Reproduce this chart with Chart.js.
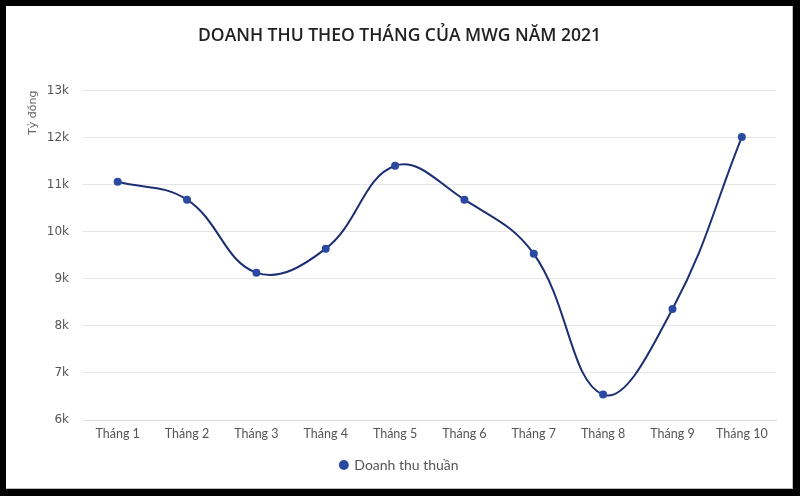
<!DOCTYPE html>
<html>
<head>
<meta charset="utf-8">
<script src="https://cdn.jsdelivr.net/npm/chart.js@4.4.1/dist/chart.umd.min.js"></script>
<style>
html,body{margin:0;padding:0;background:#000;width:800px;height:496px;overflow:hidden}
#frame{position:absolute;left:6px;top:6px;width:787px;height:483px;background:#fff;box-shadow:inset -1px -1px 0 #bbb}
#revenueChart{display:block}
</style>
</head>
<body>
<div id="frame"><canvas id="revenueChart" width="787" height="483"></canvas></div>
<script>

// ===============================
// DATA
// ===============================

const months = ["Tháng 1","Tháng 2","Tháng 3","Tháng 4","Tháng 5","Tháng 6","Tháng 7","Tháng 8","Tháng 9","Tháng 10"]

const revenue = [11060,10680,9130,9640,11400,10680,9530,6540,8360,12010]

const yTicks = [6000,7000,8000,9000,10000,11000,12000,13000]

const seriesName = "Doanh thu thuần"
const chartTitle = "DOANH THU THEO THÁNG CỦA MWG NĂM 2021"
const yTitle = "Tỷ đồng"

// ===============================
// CHART
// ===============================

const ctx = document.getElementById("revenueChart")

new Chart(ctx,{

type:"line",

data:{
labels:months,
datasets:[{
label:seriesName,
data:revenue,
borderColor:"#1c2f73",
borderWidth:2,
tension:0.4,
fill:false,
pointRadius:4,
pointHoverRadius:4,
pointBackgroundColor:"#2a49a0",
pointBorderColor:"#2a49a0",
pointBorderWidth:0
}]
},

options:{
responsive:false,
animation:false,
devicePixelRatio:1,

// same padding both sides so title and legend stay centred
layout:{
padding:{top:0,right:16.5,bottom:7,left:16.5}
},

plugins:{
title:{
display:true,
text:chartTitle,
color:"#222",
font:{family:"Open Sans",size:17.5,weight:"600"},
padding:{top:20,bottom:43.5}
},
legend:{
position:"bottom",
labels:{
usePointStyle:true,
pointStyle:"circle",
boxWidth:7,
boxHeight:7,
color:"#555",
font:{family:"Lato",size:14},
padding:10
}
},
tooltip:{enabled:false}
},

scales:{

x:{
offset:true,
grid:{display:false},
border:{color:"#dcdcdc",width:1},
ticks:{
color:"#555",
font:{family:"Lato",size:12.5},
padding:-2
},
afterFit:(scale)=>{ scale.height = 28 }
},

y:{
min:6000,
max:13000,
afterBuildTicks:(scale)=>{ scale.ticks = yTicks.map(v=>({value:v})) },
grid:{color:"#e6e6e6",drawTicks:false},
border:{display:false},
title:{
display:true,
text:yTitle,
align:"end",
color:"#666",
font:{family:"DejaVu Sans",size:11},
padding:{top:4,bottom:0}
},
ticks:{
color:"#555",
font:{family:"DejaVu Sans",size:12},
padding:14,
callback:(v)=>(v/1000)+"k"
},
afterFit:(scale)=>{ scale.width = 60.5 }
}

}

}

})

</script>
</body>
</html>
